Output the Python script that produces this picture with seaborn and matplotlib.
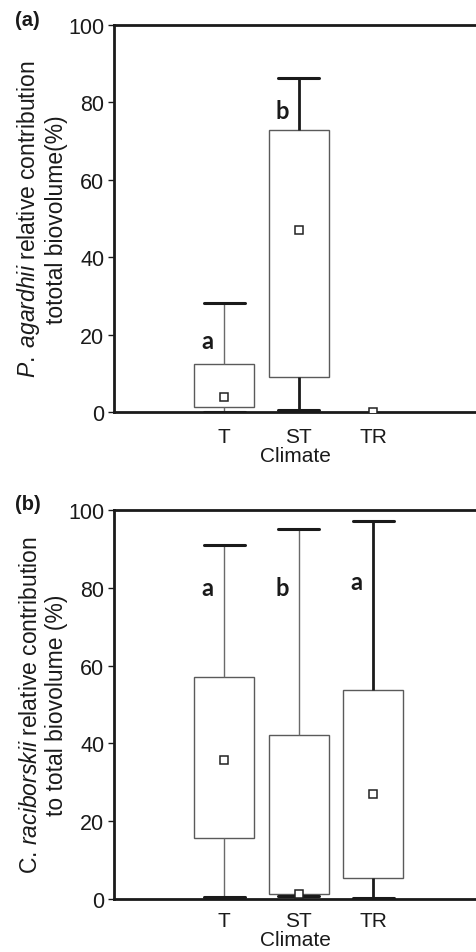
import matplotlib
matplotlib.use("Agg")
import matplotlib.pyplot as plt
import seaborn as sns
import pandas as pd

# ---------------- data ----------------
climates = ["T", "ST", "TR"]

# Panel (a): P. agardhii
a_min = [0.0, 0.4, 0.0]
a_q1 = [1.4, 9.1, 0.0]
a_q3 = [12.4, 72.9, 0.0]
a_max = [28.2, 86.3, 0.0]
a_mean = [4.0, 47.1, 0.0]
a_letters = ["a", "b", ""]
a_letter_y = [18.6, 77.8, 0.0]

# Panel (b): C. raciborskii
b_min = [0.5, 0.8, 0.3]
b_q1 = [15.7, 1.3, 5.4]
b_q3 = [57.1, 42.2, 53.7]
b_max = [91.0, 95.1, 97.2]
b_mean = [35.7, 1.2, 27.1]
b_letters = ["a", "b", "a"]
b_letter_y = [80.2, 80.2, 81.7]

yticks = [0, 20, 40, 60, 80, 100]

sns.set_style("white")
plt.rcParams["font.family"] = ["Liberation Sans", "DejaVu Sans"]
plt.rcParams["mathtext.fontset"] = "custom"
plt.rcParams["mathtext.rm"] = "Liberation Sans"
plt.rcParams["mathtext.it"] = "Liberation Sans:italic"

fig = plt.figure(figsize=(4.76, 9.53), dpi=100)
W, H = 476, 953


def make_ax(top_px, bottom_px):
    left_px, right_px = 114, 476
    return fig.add_axes([left_px / W, 1 - bottom_px / H,
                         (right_px - left_px) / W, (bottom_px - top_px) / H])


def long_table(mins, q1s, q3s, maxs):
    rows = []
    for c, mn, q1, q3, mx in zip(climates, mins, q1s, q3s, maxs):
        for v in (mn, q1, q1, q3, q3, mx):
            rows.append({"Climate": c, "value": v})
    return pd.DataFrame(rows)


def draw_panel(ax, mins, q1s, q3s, maxs, means, letters, letter_y,
               whisk_styles, skip, ylabel, tag, tag_y, xpad):
    df = long_table(mins, q1s, q3s, maxs)
    for i, c in enumerate(climates):
        if c in skip:
            continue
        wc, wlw = whisk_styles[i]
        sns.boxplot(data=df[df["Climate"] == c], x="Climate", y="value",
                    order=climates, ax=ax, whis=(0, 100), width=0.8,
                    showfliers=False, fill=True, color="white",
                    boxprops=dict(facecolor="white", edgecolor="#5a5a5a", linewidth=1.0),
                    medianprops=dict(linewidth=0, color="white"),
                    whiskerprops=dict(color=wc, linewidth=wlw),
                    capprops=dict(color="#1a1a1a", linewidth=2.2),
                    capwidths=0.55)
    mdf = pd.DataFrame({"Climate": climates, "mean": means})
    sns.pointplot(data=mdf, x="Climate", y="mean", order=climates, ax=ax,
                  linestyle="none", marker="s", errorbar=None,
                  color="#222222", markersize=5.5,
                  markerfacecolor="white", markeredgecolor="#222222",
                  markeredgewidth=1.1, zorder=6)
    for i, (lt, ly) in enumerate(zip(letters, letter_y)):
        if lt:
            ax.text(i - 0.22, ly, lt, ha="center", va="center",
                    fontsize=17, fontweight="bold", family=["Lato", "DejaVu Sans"],
                    color="#1a1a1a")
    ax.set_xlim(-1.48, 3.38)
    ax.set_ylim(0, 100)
    ax.set_yticks(yticks)
    ax.set_xticks(range(len(climates)))
    ax.set_xticklabels(climates)
    ax.tick_params(axis="y", left=True, length=4, width=1.0, pad=3,
                   labelsize=15.5, colors="#1a1a1a")
    ax.tick_params(axis="x", bottom=False, length=0, pad=xpad, labelsize=15,
                   colors="#1a1a1a")
    ax.set_xlabel("Climate", fontsize=15, labelpad=0, color="#1a1a1a")
    ax.set_ylabel(ylabel, fontsize=16.5, labelpad=0, color="#1a1a1a",
                  linespacing=1.15)
    for s in ("left", "bottom", "top"):
        ax.spines[s].set_visible(True)
        ax.spines[s].set_color("#1a1a1a")
        ax.spines[s].set_linewidth(2.0)
    ax.spines["right"].set_visible(False)
    fig.text(15 / W, 1 - tag_y / H, tag, fontsize=14.5, fontweight="bold",
             ha="left", va="center", color="#1a1a1a")


ax1 = make_ax(26, 413)
draw_panel(ax1, a_min, a_q1, a_q3, a_max, a_mean, a_letters, a_letter_y,
           [("#6a6a6a", 1.0), ("#1a1a1a", 2.0), ("#1a1a1a", 1.0)], ["TR"],
           "$\\mathit{P.\\;agardhii}$ relative contribution\ntototal biovolume(%)",
           "(a)", 21, 11)

ax2 = make_ax(511, 900)
draw_panel(ax2, b_min, b_q1, b_q3, b_max, b_mean, b_letters, b_letter_y,
           [("#6a6a6a", 1.0), ("#6a6a6a", 1.0), ("#1a1a1a", 2.0)], [],
           "C. $\\mathit{raciborskii}$ relative contribution\nto total biovolume (%)",
           "(b)", 504, 8.5)

fig.savefig("out.png", dpi=100)
